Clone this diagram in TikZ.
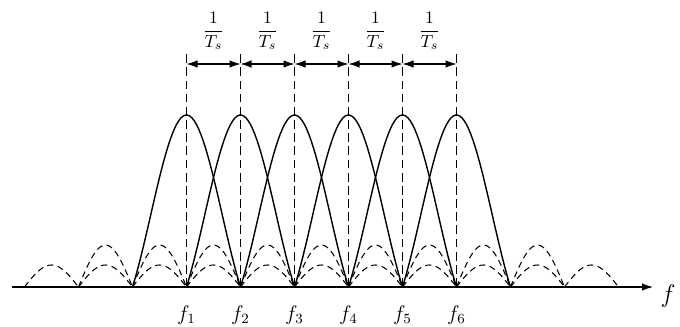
\documentclass[tikz,border=0pt]{standalone}
\usepackage{amsmath}
\usepackage{tikz}
\usetikzlibrary{arrows.meta,calc,positioning}

\begin{document}
\begin{tikzpicture}[>={Latex[length=2.2mm,width=1.5mm]},x=0.2mm,y=0.2mm,
  lobe/.style={line width=0.8pt},
  side/.style={line width=0.6pt,dash pattern=on 3.5pt off 2.5pt},
  guide/.style={line width=0.6pt,dash pattern=on 5pt off 2.5pt}]
  \useasboundingbox (0,-39) rectangle (680,287);
  % frequency axis
  \coordinate (o) at (12,0);
  \coordinate (e) at (653,0);
  \draw[line width=0.6pt,->] (o) -- (e);
  \node[font=\Large] (f) at (668,-9) {$f$};
  % main lobes of the subcarriers
  \foreach \k in {1,...,6} {
    \pgfmathsetmacro\fk{186.5+54*(\k-1)}
    \draw[lobe] plot[domain=-1:1,samples=50]
      ({\fk+54*\x},{172*sin(180*\x)/(pi*\x)});
    \coordinate (z\k) at (\fk,0);
    \coordinate (t\k) at (\fk,235);
    \coordinate (a\k) at (\fk,223);
    \draw[guide] (z\k) -- (t\k);
    \node[font=\large] (lab\k) at (\fk,-28) {$f_\k$};
  }
  % side lobes
  \foreach \n in {-2,...,6}
    \draw[side] plot[domain=0:1,samples=25]
      ({186.5+54*(\n+\x)},{42*sin(180*\x)});
  \foreach \n in {-3,...,7}
    \draw[side] plot[domain=0:1,samples=25]
      ({186.5+54*(\n+\x)},{22*sin(180*\x)});
  % spacing 1/T_s
  \foreach \k [evaluate=\k as \j using int(\k+1)] in {1,...,5} {
    \draw[line width=0.6pt,<->] (a\k) -- (a\j);
    \node (w\k) at ($(a\k)!0.5!(a\j)+(0,33)$) {$\dfrac{1}{T_s}$};
  }
\end{tikzpicture}
\end{document}
